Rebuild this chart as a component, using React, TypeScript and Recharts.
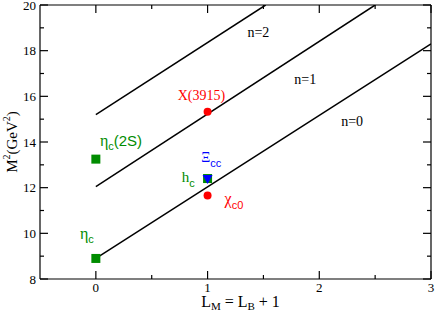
import { ComposedChart, Line, Scatter, XAxis, YAxis } from 'recharts';

const SERIF = '"Liberation Serif", "DejaVu Serif", serif';
const SANS = '"Liberation Sans", "DejaVu Sans", sans-serif';

const GREEN = '#008c00';
const RED = '#ff0000';
const BLUE = '#0000ff';

// axes
const xDomain = [-0.5, 3];
const yDomain = [8, 20];
const xTicks = [0, 0.5, 1, 1.5, 2, 2.5, 3];
const yTicks = [8, 9, 10, 11, 12, 13, 14, 15, 16, 17, 18, 19, 20];

// Regge trajectories
const trajN0 = [
  { x: 0, y: 8.9 },
  { x: 3, y: 18.3 },
];
const trajN1 = [
  { x: 0, y: 12.05 },
  { x: 2.5, y: 20 },
];
const trajN2 = [
  { x: 0, y: 15.2 },
  { x: 1.52, y: 20 },
];

// states
const greenSquares = [
  { x: 0, y: 8.9 },
  { x: 0, y: 13.25 },
  { x: 1, y: 12.4 },
];
const redCircles = [
  { x: 1, y: 15.32 },
  { x: 1, y: 11.66 },
];
const blueTriangles = [{ x: 1, y: 12.38 }];

// text annotations (data coords of text anchor)
const annotations = [
  { x: 1.357, y: 18.62, id: 'n2' },
  { x: 1.777, y: 16.52, id: 'n1' },
  { x: 2.196, y: 14.72, id: 'n0' },
  { x: 0.732, y: 15.84, id: 'X3915' },
  { x: 0.036, y: 13.82, id: 'etac2S' },
  { x: -0.143, y: 9.75, id: 'etac' },
  { x: 0.768, y: 12.25, id: 'hc' },
  { x: 0.944, y: 13.12, id: 'Xicc' },
  { x: 1.152, y: 11.28, id: 'chic0' },
];

const renderAnnotation = (id: string, x: number, y: number) => {
  switch (id) {
    case 'n2':
    case 'n1':
    case 'n0':
      return (
        <text x={x} y={y} fontFamily={SERIF} fontSize={14} fill="#000">
          {id === 'n2' ? 'n=2' : id === 'n1' ? 'n=1' : 'n=0'}
        </text>
      );
    case 'X3915':
      return (
        <text x={x} y={y} fontFamily={SERIF} fontSize={14} fill={RED}>
          X(3915)
        </text>
      );
    case 'etac2S':
      return (
        <text x={x} y={y} fontFamily={SANS} fontSize={15} fill={GREEN}>
          <tspan fontFamily={SERIF} fontSize={16}>η</tspan>
          <tspan fontSize={11} dy={4}>c</tspan>
          <tspan dy={-4}>(2S)</tspan>
        </text>
      );
    case 'etac':
      return (
        <text x={x} y={y} fontFamily={SANS} fontSize={15} fill={GREEN}>
          <tspan fontFamily={SERIF} fontSize={16}>η</tspan>
          <tspan fontSize={11} dy={4}>c</tspan>
        </text>
      );
    case 'hc':
      return (
        <text x={x} y={y} fontFamily={SERIF} fontSize={15} fill={GREEN}>
          h<tspan fontFamily={SANS} fontSize={11} dy={5}>c</tspan>
        </text>
      );
    case 'Xicc':
      return (
        <text x={x} y={y} fontFamily={SERIF} fontSize={14} fill={BLUE}>
          Ξ<tspan fontFamily={SANS} fontSize={11} dy={5}>cc</tspan>
        </text>
      );
    case 'chic0':
      return (
        <text x={x} y={y} fontFamily={SERIF} fontSize={16} fill={RED}>
          χ<tspan fontFamily={SANS} fontSize={11} dy={5}>c0</tspan>
        </text>
      );
    default:
      return null;
  }
};

const isMajor = (v: number, step: number) => Math.abs(v / step - Math.round(v / step)) < 1e-6;

const BottomTick = (props: any) => {
  const { x, y, payload } = props;
  const major = isMajor(payload.value, 1);
  return (
    <g>
      <line x1={x} y1={y} x2={x} y2={y - (major ? 8 : 4)} stroke="#000" strokeWidth={1.2} />
      {major && (
        <text x={x} y={y + 13} textAnchor="middle" fontFamily={SERIF} fontSize={13} fill="#000">
          {payload.value}
        </text>
      )}
    </g>
  );
};

const TopTick = (props: any) => {
  const { x, y, payload } = props;
  const major = isMajor(payload.value, 1);
  return <line x1={x} y1={y} x2={x} y2={y + (major ? 8 : 4)} stroke="#000" strokeWidth={1.2} />;
};

const LeftTick = (props: any) => {
  const { x, y, payload } = props;
  const major = isMajor(payload.value, 2);
  return (
    <g>
      <line x1={x} y1={y} x2={x + (major ? 8 : 4)} y2={y} stroke="#000" strokeWidth={1.2} />
      {major && (
        <text x={x - 4} y={y} dy="0.35em" textAnchor="end" fontFamily={SERIF} fontSize={13} fill="#000">
          {payload.value}
        </text>
      )}
    </g>
  );
};

const RightTick = (props: any) => {
  const { x, y, payload } = props;
  const major = isMajor(payload.value, 2);
  return <line x1={x} y1={y} x2={x - (major ? 8 : 4)} y2={y} stroke="#000" strokeWidth={1.2} />;
};

const Square = (props: any) => {
  const { cx, cy } = props;
  return <rect x={cx - 4.5} y={cy - 4.5} width={9} height={9} fill={GREEN} />;
};

const Dot = (props: any) => {
  const { cx, cy } = props;
  return <circle cx={cx} cy={cy} r={4} fill={RED} />;
};

const DownTriangle = (props: any) => {
  const { cx, cy } = props;
  return <path d={`M${cx - 5},${cy - 4} L${cx + 5},${cy - 4} L${cx},${cy + 5} Z`} fill={BLUE} />;
};

const AnnotationShape = (props: any) => {
  const { cx, cy, payload } = props;
  return renderAnnotation(payload.id, cx, cy);
};

const axisStyle = { stroke: '#000', strokeWidth: 1.2 };

export default function App() {
  return (
    <div>
      <style>{'body{margin:0}'}</style>
      <ComposedChart width={436} height={314} margin={{ top: 4, right: 4, bottom: 34, left: 39 }}>
        <XAxis
          xAxisId="top"
          orientation="top"
          type="number"
          dataKey="x"
          domain={xDomain}
          ticks={xTicks}
          interval={0}
          allowDataOverflow
          height={1}
          tickSize={0}
          tickMargin={0}
          tickLine={false}
          tick={TopTick}
          axisLine={axisStyle}
        />
        <XAxis
          type="number"
          dataKey="x"
          domain={xDomain}
          ticks={xTicks}
          interval={0}
          allowDataOverflow
          height={1}
          tickSize={0}
          tickMargin={0}
          tickLine={false}
          tick={BottomTick}
          axisLine={axisStyle}
          label={{
            content: ({ viewBox }: any) => (
              <text
                x={viewBox.x + viewBox.width / 2 + 5}
                y={viewBox.y + 28}
                textAnchor="middle"
                fontFamily={SERIF}
                fontSize={16}
                fill="#000"
              >
                L<tspan fontSize={11} dy={3}>M</tspan>
                <tspan dy={-3}> = L</tspan>
                <tspan fontSize={11} dy={3}>B</tspan>
                <tspan dy={-3}> + 1</tspan>
              </text>
            ),
          }}
        />
        <YAxis
          type="number"
          dataKey="y"
          domain={yDomain}
          ticks={yTicks}
          interval={0}
          allowDataOverflow
          width={1}
          tickSize={0}
          tickMargin={0}
          tickLine={false}
          tick={LeftTick}
          axisLine={axisStyle}
          label={{
            content: ({ viewBox }: any) => {
              const lx = viewBox.x - 27;
              const ly = viewBox.y + viewBox.height / 2;
              return (
                <text
                  x={lx}
                  y={ly}
                  transform={`rotate(-90, ${lx}, ${ly})`}
                  textAnchor="middle"
                  dominantBaseline="central"
                  fontFamily={SERIF}
                  fontSize={15}
                  fill="#000"
                >
                  M<tspan fontSize={10} dy={-6}>2</tspan>
                  <tspan dy={6}>(GeV</tspan>
                  <tspan fontSize={10} dy={-6}>2</tspan>
                  <tspan dy={6}>)</tspan>
                </text>
              );
            },
          }}
        />
        <YAxis
          yAxisId="right"
          orientation="right"
          type="number"
          dataKey="y"
          domain={yDomain}
          ticks={yTicks}
          interval={0}
          allowDataOverflow
          width={1}
          tickSize={0}
          tickMargin={0}
          tickLine={false}
          tick={RightTick}
          axisLine={axisStyle}
        />
        <Line data={trajN0} dataKey="y" stroke="#000" strokeWidth={1.5} dot={false} isAnimationActive={false} />
        <Line data={trajN1} dataKey="y" stroke="#000" strokeWidth={1.5} dot={false} isAnimationActive={false} />
        <Line data={trajN2} dataKey="y" stroke="#000" strokeWidth={1.5} dot={false} isAnimationActive={false} />
        <Scatter data={greenSquares} dataKey="y" shape={Square} isAnimationActive={false} />
        <Scatter data={redCircles} dataKey="y" shape={Dot} isAnimationActive={false} />
        <Scatter data={blueTriangles} dataKey="y" shape={DownTriangle} isAnimationActive={false} />
        <Scatter data={annotations} dataKey="y" shape={AnnotationShape} isAnimationActive={false} />
      </ComposedChart>
    </div>
  );
}
